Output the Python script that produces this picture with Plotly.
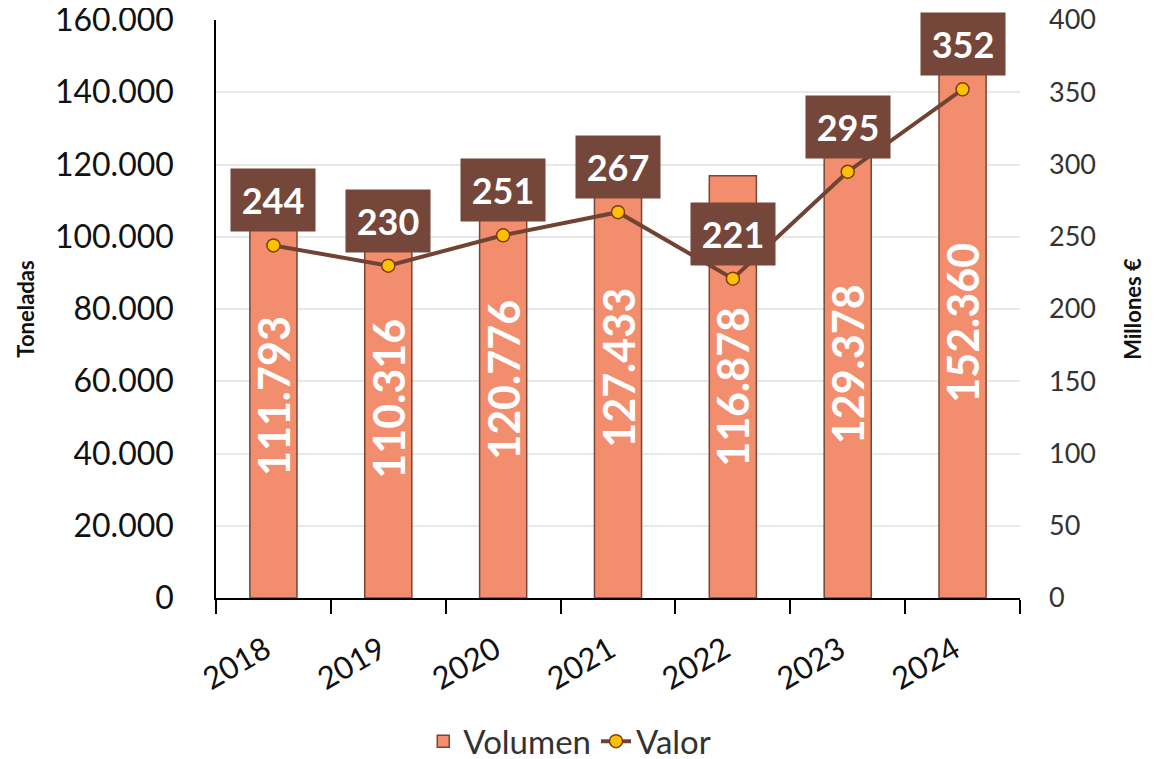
import plotly.graph_objects as go

years = [2018, 2019, 2020, 2021, 2022, 2023, 2024]
volumen = [111793, 110316, 120776, 127433, 116878, 129378, 152360]
valor = [244, 230, 251, 267, 221, 295, 352]

FONT = 'Lato'
BAR_FILL = '#F28D6E'
BAR_LINE = '#7A4535'
LINE_COL = '#704333'
BOX_COL = '#75463A'

fig = go.Figure()
fig.add_trace(go.Bar(
    x=years, y=volumen, name='Volumen', width=0.41,
    marker=dict(color=BAR_FILL, line=dict(color=BAR_LINE, width=1.5)),
    texttemplate='<b>%{y:,}</b>', textposition='inside', insidetextanchor='middle',
    textangle=-90, constraintext='none',
    textfont=dict(family=FONT, size=43, color='white'),
))
fig.add_trace(go.Scatter(
    x=years, y=valor, yaxis='y2', name='Valor', mode='lines+markers',
    line=dict(color=LINE_COL, width=4),
    marker=dict(size=13, color='#FFC000', line=dict(color='#7A3E10', width=1.5)),
))

annotations = []
for yr, v in zip(years, valor):
    annotations.append(dict(
        x=yr, y=v, xref='x', yref='y2', text=f'<b>{v}</b>', showarrow=False,
        yshift=45, bgcolor=BOX_COL, width=64, height=42, borderpad=10,
        font=dict(family=FONT, size=36, color='white'),
    ))

fig.update_layout(
    width=1160, height=759,
    margin=dict(l=208, r=148, t=12, b=169, autoexpand=False),
    plot_bgcolor='white', paper_bgcolor='white',
    separators=',.',
    font=dict(family=FONT, color='#111'),
    annotations=annotations,
    showlegend=True,
    legend=dict(orientation='h', xref='paper', x=0.44, xanchor='center',
                yref='container', y=0.034, yanchor='middle',
                font=dict(family=FONT, size=33, color='#333')),
    xaxis=dict(
        type='linear', range=[years[0] - 0.5, years[-1] + 0.5], automargin=False,
        tickmode='array', tickvals=years, ticktext=[str(y) for y in years],
        ticks='', showgrid=False, zeroline=False, ticklabelstandoff=20, ticklabelshift=-8,
        ticklabeloverflow='allow',
        minor=dict(tickmode='array', tickvals=[y - 0.5 for y in years] + [years[-1] + 0.5],
                   ticks='outside', ticklen=14, tickcolor='black', tickwidth=1.5, showgrid=False),
        showline=True, linecolor='black', linewidth=1.5,
        tickangle=-30, tickfont=dict(family=FONT, size=31, color='#111'),
    ),
    yaxis=dict(
        range=[0, 160000], dtick=20000, tickformat=',', automargin=False,
        showgrid=True, gridcolor='#E8E8E8', gridwidth=1.5,
        showline=True, linecolor='black', linewidth=1.5, zeroline=False,
        ticks='', ticklabelstandoff=34, ticklabeloverflow='allow',
        tickfont=dict(family=FONT, size=32, color='#111'),
        title=dict(text='<b>Toneladas</b>', font=dict(family=FONT, size=22, color='#111'), standoff=14),
    ),
    yaxis2=dict(
        range=[0, 400], dtick=50, overlaying='y', side='right', automargin=False,
        showgrid=False, showline=False, zeroline=False, ticks='', ticklabelstandoff=28,
        ticklabeloverflow='allow',
        tickfont=dict(family=FONT, size=27, color='#333'),
        title=dict(text='<b>Millones €</b>', font=dict(family=FONT, size=22, color='#111'), standoff=30),
    ),
)

fig.write_html('out.html')
